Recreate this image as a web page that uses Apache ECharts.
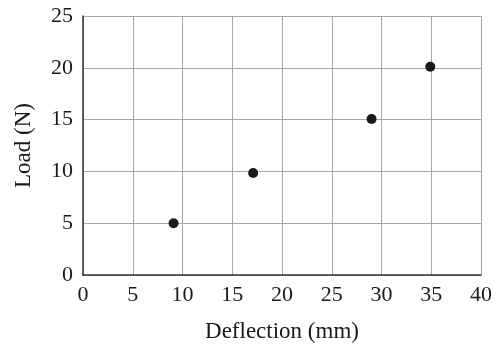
<!DOCTYPE html>
<html>
<head>
<meta charset="utf-8">
<script src="https://cdn.jsdelivr.net/npm/echarts@6/dist/echarts.min.js"></script>
<style>html,body{margin:0;padding:0;background:#fff}#c{width:499px;height:344px}</style>
</head>
<body>
<div id="c"></div>
<script>
const deflection = [9.1, 17.1, 29.0, 34.9];
const load = [5.0, 9.85, 15.05, 20.1];
const xTitle = 'Deflection (mm)';
const yTitle = 'Load (N)';

const points = deflection.map((d, i) => [d, load[i]]);
const font = '"Liberation Serif", "Times New Roman", Times, serif';
const chart = echarts.init(document.getElementById('c'), null, {renderer: 'canvas'});
chart.setOption({
  animation: false,
  backgroundColor: '#fff',
  grid: {left: 83, right: 18, top: 16, bottom: 69, containLabel: false, outerBoundsMode: 'none'},
  xAxis: {
    type: 'value', min: 0, max: 40, interval: 5,
    name: xTitle, nameLocation: 'middle', nameGap: 45,
    nameTextStyle: {fontFamily: font, fontSize: 23, color: '#1a1a1a'},
    axisLine: {show: true, onZero: false, lineStyle: {color: '#333', width: 1.5}},
    axisTick: {show: false},
    axisLabel: {fontFamily: font, fontSize: 22, color: '#1a1a1a', margin: 9},
    splitLine: {show: true, lineStyle: {color: '#a8a8a8', width: 1}}
  },
  yAxis: {
    type: 'value', min: 0, max: 25, interval: 5,
    name: yTitle, nameLocation: 'middle', nameGap: 48,
    nameTextStyle: {fontFamily: font, fontSize: 23, color: '#1a1a1a'},
    axisLine: {show: true, onZero: false, lineStyle: {color: '#333', width: 1.5}},
    axisTick: {show: false},
    axisLabel: {fontFamily: font, fontSize: 22, color: '#1a1a1a', margin: 10},
    splitLine: {show: true, lineStyle: {color: '#a8a8a8', width: 1}}
  },
  series: [{
    type: 'scatter',
    data: points,
    symbol: 'circle',
    symbolSize: 10,
    itemStyle: {color: '#1a1a1a', opacity: 1}
  }]
});
</script>
</body>
</html>
